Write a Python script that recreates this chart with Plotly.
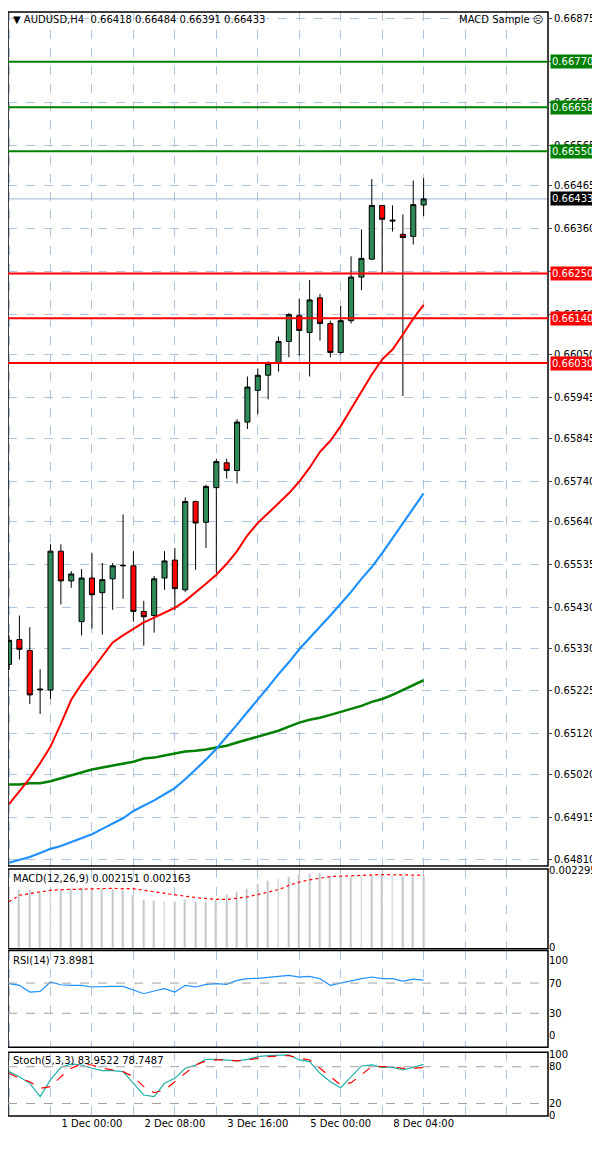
import plotly.graph_objects as go

opens = [0.65290,0.65351,0.65324,0.65227,0.65227,0.65568,0.65495,0.65395,0.65502,0.65466,
         0.65500,0.65532,0.65532,0.65420,0.65410,0.65502,0.65546,0.65473,0.65690,0.65639,
         0.65724,0.65785,0.65766,0.65885,0.65963,0.66000,0.66031,0.66083,0.66146,0.66105,
         0.66190,0.66127,0.66056,0.66134,0.66241,0.66285,0.66417,0.66381,0.66346,0.66341,0.66418]
highs = [0.65361,0.65410,0.65381,0.65278,0.65585,0.65585,0.65519,0.65524,0.65563,0.65539,
         0.65539,0.65658,0.65568,0.65446,0.65507,0.65568,0.65576,0.65700,0.65692,0.65731,
         0.65795,0.65795,0.65892,0.65997,0.66017,0.66034,0.66095,0.66153,0.66188,0.66234,
         0.66200,0.66134,0.66170,0.66292,0.66358,0.66482,0.66417,0.66417,0.66395,0.66478,0.66484]
lows = [0.65276,0.65302,0.65193,0.65168,0.65205,0.65437,0.65478,0.65361,0.65378,0.65363,
        0.65424,0.65451,0.65395,0.65336,0.65368,0.65473,0.65424,0.65468,0.65522,0.65576,
        0.65515,0.65746,0.65734,0.65868,0.65904,0.65941,0.66009,0.66044,0.66048,0.65997,
        0.66085,0.66044,0.66051,0.66127,0.66209,0.66285,0.66251,0.66353,0.65949,0.66321,0.66391]
closes = [0.65349,0.65327,0.65215,0.65229,0.65568,0.65495,0.65512,0.65502,0.65461,0.65498,
          0.65532,0.65533,0.65420,0.65407,0.65500,0.65544,0.65476,0.65690,0.65637,0.65727,
          0.65788,0.65766,0.65885,0.65971,0.66000,0.66029,0.66083,0.66149,0.66110,0.66185,
          0.66127,0.66056,0.66134,0.66241,0.66287,0.66417,0.66383,0.66379,0.66338,0.66419,0.66433]

ma_red = [0.64947,0.64978,0.65010,0.65047,0.65088,0.65144,0.65203,0.65242,0.65276,0.65310,
          0.65344,0.65361,0.65378,0.65393,0.65405,0.65417,0.65429,0.65446,0.65466,0.65488,
          0.65510,0.65537,0.65568,0.65607,0.65637,0.65661,0.65685,0.65710,0.65739,0.65773,
          0.65812,0.65839,0.65875,0.65917,0.65958,0.66002,0.66039,0.66063,0.66100,0.66139,0.66173]
ma_blue = [0.64803,0.64810,0.64817,0.64827,0.64837,0.64844,0.64854,0.64864,0.64873,0.64886,
           0.64898,0.64912,0.64930,0.64942,0.64956,0.64971,0.64986,0.65008,0.65032,0.65056,
           0.65083,0.65112,0.65142,0.65173,0.65203,0.65234,0.65266,0.65295,0.65327,0.65354,
           0.65381,0.65410,0.65439,0.65468,0.65500,0.65529,0.65563,0.65600,0.65637,0.65673,0.65710]
ma_green = [0.64995,0.64995,0.64998,0.64998,0.65003,0.65010,0.65017,0.65025,0.65032,0.65037,
            0.65042,0.65047,0.65051,0.65059,0.65061,0.65066,0.65071,0.65076,0.65078,0.65081,
            0.65086,0.65090,0.65098,0.65105,0.65112,0.65120,0.65127,0.65137,0.65147,0.65154,
            0.65159,0.65166,0.65173,0.65181,0.65188,0.65198,0.65205,0.65215,0.65227,0.65239,0.65251]

macd_hist = [0.001712,0.001731,0.001712,0.001663,0.001692,0.001731,0.001760,0.001780,0.001780,0.001760,
             0.001741,0.001712,0.001565,0.001438,0.001389,0.001369,0.001369,0.001418,0.001369,0.001369,
             0.001418,0.001565,0.001663,0.001760,0.001907,0.001985,0.002054,0.002103,0.002181,0.002201,
             0.002220,0.002103,0.002103,0.002103,0.002151,0.002151,0.002151,0.002151,0.002151,0.002151,0.002151]
macd_signal = [0.001369,0.001565,0.001614,0.001663,0.001712,0.001731,0.001741,0.001760,0.001770,0.001770,
               0.001770,0.001760,0.001760,0.001712,0.001663,0.001614,0.001565,0.001535,0.001496,0.001467,
               0.001438,0.001438,0.001467,0.001516,0.001584,0.001663,0.001731,0.001858,0.001956,0.002024,
               0.002083,0.002122,0.002132,0.002152,0.002161,0.002171,0.002181,0.002181,0.002181,0.002181,0.002163]
rsi = [69.2,67.0,58.1,59.0,71.4,67.8,67.0,67.0,64.8,65.6,65.6,65.6,60.4,55.9,59.5,62.6,58.1,67.0,64.8,68.3,
       69.2,68.3,73.6,75.8,76.2,78.0,78.9,80.2,78.0,78.9,75.8,67.0,70.0,73.6,75.8,78.0,75.8,75.8,72.7,75.3,73.9]
stoch_k = [72.0,63.8,52.9,31.1,58.4,79.1,84.6,82.9,77.5,73.6,73.6,72.0,52.9,33.8,31.1,52.9,61.1,77.5,82.9,92.2,
           92.2,91.1,89.5,92.2,96.6,98.2,98.2,99.3,91.1,88.4,69.3,55.6,45.8,63.8,81.3,82.9,79.1,79.1,74.7,79.1,83.95]
stoch_d = [69.3,61.1,55.6,44.7,47.5,63.8,77.5,84.6,82.9,77.5,74.7,72.0,63.8,47.5,37.6,42.0,55.6,69.3,82.9,89.5,
           91.1,91.1,89.5,91.1,93.8,96.6,97.7,98.2,93.8,91.1,77.5,63.8,50.2,54.0,66.6,80.2,80.2,80.2,77.5,77.5,78.75]

green_levels = [0.66770, 0.66658, 0.66550]
red_levels = [0.66250, 0.66140, 0.66030]
current_price = 0.66433
price_ticks = [0.64810,0.64915,0.65020,0.65120,0.65225,0.65330,0.65430,0.65535,0.65640,0.65740,0.65845,
               0.65945,0.66050,0.66150,0.66255,0.66360,0.66465,0.66565,0.66670,0.66770,0.66875]
hidden_ticks = [0.66770, 0.66255]
date_labels = ["27 Nov 2025", "1 Dec 00:00", "2 Dec 08:00", "3 Dec 16:00", "5 Dec 00:00", "8 Dec 04:00"]
date_pos = [0, 8, 16, 24, 32, 40]

x = list(range(len(closes)))
FONT = "DejaVu Sans"
GRID = "#b0c4de"

fig = go.Figure()
fig.add_trace(go.Candlestick(x=x, open=opens, high=highs, low=lows, close=closes,
    increasing=dict(fillcolor="#2e8b57", line=dict(color="#000000", width=1)),
    decreasing=dict(fillcolor="#ff0000", line=dict(color="#000000", width=1)),
    whiskerwidth=0, xaxis="x", yaxis="y", showlegend=False, hoverinfo="skip"))
for vals, col, w in [(ma_green, "#008000", 2.5), (ma_blue, "#1e90ff", 2.2), (ma_red, "#ff0000", 2)]:
    fig.add_trace(go.Scatter(x=x, y=vals, mode="lines", line=dict(color=col, width=w),
                             xaxis="x", yaxis="y", showlegend=False))
fig.add_trace(go.Bar(x=x, y=macd_hist, marker_color="#c0c0c0", width=0.18,
                     xaxis="x2", yaxis="y2", showlegend=False))
fig.add_trace(go.Scatter(x=x, y=macd_signal, mode="lines", line=dict(color="#ff0000", width=1.2, dash="dot"),
                         xaxis="x2", yaxis="y2", showlegend=False))
fig.add_trace(go.Scatter(x=x, y=rsi, mode="lines", line=dict(color="#1e90ff", width=1.2),
                         xaxis="x3", yaxis="y3", showlegend=False))
fig.add_trace(go.Scatter(x=x, y=stoch_k, mode="lines", line=dict(color="#20b2aa", width=1.2),
                         xaxis="x4", yaxis="y4", showlegend=False))
fig.add_trace(go.Scatter(x=x, y=stoch_d, mode="lines", line=dict(color="#ff0000", width=1.2, dash="dash"),
                         xaxis="x4", yaxis="y4", showlegend=False))

grid_vals = list(range(0, 53, 4))
xr = [-0.1, 52]
def xax(anchor, labels):
    d = dict(range=xr, anchor=anchor, showgrid=True, gridcolor=GRID, griddash="dash", gridwidth=1,
             zeroline=False, showline=False, fixedrange=True, rangeslider=dict(visible=False),
             tickmode="array", tickvals=grid_vals)
    if labels:
        d.update(ticktext=[date_labels[date_pos.index(v)] if v in date_pos else "" for v in grid_vals],
                 ticks="", tickfont=dict(family=FONT, size=10, color="#000"))
    else:
        d.update(showticklabels=False)
    return d

yfont = dict(family=FONT, size=10, color="#000")
fig.update_layout(
    width=592, height=1142, margin=dict(l=0, r=52, t=0, b=34),
    paper_bgcolor="#ffffff", plot_bgcolor="#ffffff",
    xaxis=xax("y", False), xaxis2=dict(xax("y2", False), matches="x"),
    xaxis3=dict(xax("y3", False), matches="x"), xaxis4=dict(xax("y4", True), matches="x"),
    yaxis=dict(domain=[0.2265, 1.0], range=[0.64795, 0.66892], side="right", tickmode="array",
               tickvals=price_ticks,
               ticktext=["" if v in hidden_ticks else f"{v:.5f}" for v in price_ticks], tickfont=yfont,
               ticks="outside", ticklen=3, showgrid=True, gridcolor=GRID, griddash="dash", zeroline=False),
    yaxis2=dict(domain=[0.1516, 0.2238], range=[-0.00003, 0.00235], side="right", tickmode="array",
                tickvals=[0, 0.002295], ticktext=["0", "0.002295"], tickfont=yfont, showgrid=False, zeroline=False),
    yaxis3=dict(domain=[0.0623, 0.1498], range=[-15, 113], side="right", tickmode="array",
                tickvals=[0, 30, 70, 100], tickfont=yfont, showgrid=False, zeroline=False),
    yaxis4=dict(domain=[0.0, 0.0578], range=[-0.5, 103.8], side="right", tickmode="array",
                tickvals=[0, 20, 80, 100], tickfont=yfont, showgrid=False, zeroline=False),
    bargap=0,
)

shapes = []
for yname in ["y", "y2", "y3", "y4"]:
    shapes.append(dict(type="rect", xref="x domain", yref=f"{yname} domain", x0=0, x1=1, y0=0, y1=1,
                       line=dict(color="#000", width=1.5), layer="above"))
for lv, yname in [(70, "y3"), (30, "y3"), (80, "y4"), (20, "y4")]:
    shapes.append(dict(type="line", xref="x domain", yref=yname, x0=0, x1=1, y0=lv, y1=lv,
                       line=dict(color="#a0a0a0", width=1, dash="dash")))
shapes.append(dict(type="line", xref="x domain", yref="y", x0=0, x1=1, y0=current_price, y1=current_price,
                   line=dict(color="#b0c4de", width=1.2), layer="below"))
for lv in green_levels:
    shapes.append(dict(type="line", xref="x domain", yref="y", x0=0, x1=1, y0=lv, y1=lv,
                       line=dict(color="#008000", width=2)))
for lv in red_levels:
    shapes.append(dict(type="line", xref="x domain", yref="y", x0=0, x1=1, y0=lv, y1=lv,
                       line=dict(color="#ff0000", width=2)))
fig.update_layout(shapes=shapes)

ann = []
def box(v, bg):
    ann.append(dict(xref="paper", yref="y", x=1.003, y=v, xanchor="left", yanchor="middle", showarrow=False,
                    text=f"{v:.5f}", font=dict(family=FONT, size=10, color="#fff"), bgcolor=bg,
                    borderpad=1))
for lv in green_levels:
    box(lv, "#008000")
for lv in red_levels:
    box(lv, "#ff0000")
box(current_price, "#000000")
ann.append(dict(xref="paper", yref="paper", x=0.005, y=1.0, xanchor="left", yanchor="top", showarrow=False,
                text="▼ AUDUSD,H4  0.66418 0.66484 0.66391 0.66433", font=dict(family=FONT, size=10, color="#000")))
ann.append(dict(xref="paper", yref="paper", x=0.995, y=1.0, xanchor="right", yanchor="top", showarrow=False,
                text="MACD Sample ☹", font=dict(family=FONT, size=10, color="#000")))
for txt, yname in [("MACD(12,26,9) 0.002151 0.002163", "y2"), ("RSI(14) 73.8981", "y3"),
                   ("Stoch(5,3,3) 83.9522 78.7487", "y4")]:
    ann.append(dict(xref="x domain", yref=f"{yname} domain", x=0.005, y=0.98, xanchor="left", yanchor="top",
                    showarrow=False, text=txt, font=dict(family=FONT, size=10, color="#000")))
fig.update_layout(annotations=ann)

fig.write_html("out.html")
